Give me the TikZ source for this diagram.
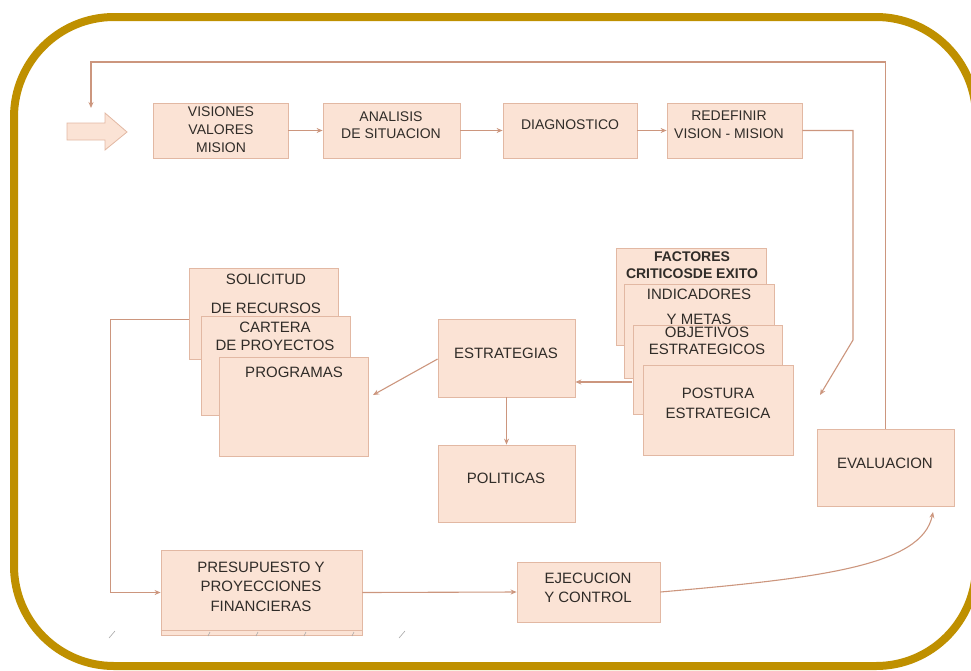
\documentclass[tikz,border=0pt]{standalone}
\usepackage{fontspec}
\setmainfont{Liberation Sans}
\usetikzlibrary{arrows.meta}
\definecolor{gold}{RGB}{191,144,0}
\definecolor{peach}{RGB}{251,227,213}
\definecolor{peachline}{RGB}{226,184,163}
\definecolor{wire}{RGB}{204,150,126}
\definecolor{ink}{RGB}{48,44,40}
\begin{document}
\begin{tikzpicture}[x=1pt,y=-1pt,
  box/.style={rectangle, draw=peachline, fill=peach, line width=0.8pt, inner sep=0pt},
  lbl/.style={text=ink, align=center, inner sep=0pt, font=\fontsize{15}{18}\selectfont},
  toprow/.style={lbl, font=\fontsize{14}{17}\selectfont},
  conn/.style={draw=wire, line width=1.1pt, -{Stealth[length=6pt,width=5pt]}},
  tick/.style={draw=black!35, line width=0.6pt}]

\useasboundingbox (0,0) rectangle (971,670);

% outer frame
\draw[gold, line width=8pt, rounded corners=100pt] (14,17) rectangle (976,666);

% entry arrow
\draw[draw=peachline, fill=peach, line width=0.8pt]
  (67,123) -- (105,123) -- (105,113) -- (127,132) -- (105,150) -- (105,140) -- (67,140) -- cycle;

% top row
\node[box, minimum width=135, minimum height=55] (vis) at (220.5,130.5) {};
\node[toprow, font=\fontsize{14}{18}\selectfont] (visT) at (221,130) {VISIONES\\VALORES\\MISION};
\node[box, minimum width=137, minimum height=55] (ana) at (391.5,130.5) {};
\node[toprow] (anaT) at (391,125.5) {ANALISIS\\DE SITUACION};
\node[box, minimum width=134, minimum height=55] (dia) at (570,130.5) {};
\node[toprow] (diaT) at (570,125) {DIAGNOSTICO};
\node[box, minimum width=135, minimum height=55] (red) at (734.5,130.5) {};
\node[toprow, font=\fontsize{14}{18}\selectfont] (redT) at (729,125) {REDEFINIR\\VISION - MISION};

% left stack
\node[box, minimum width=149, minimum height=91] (sol) at (263.5,313.5) {};
\node[lbl, font=\fontsize{15}{29}\selectfont] (solT) at (266,293.5) {SOLICITUD\\DE RECURSOS};
\node[box, minimum width=149, minimum height=99] (car) at (275.5,365.5) {};
\node[lbl] (carT) at (275,336) {CARTERA\\DE PROYECTOS};
\node[box, minimum width=149, minimum height=99] (pro) at (293.5,406.5) {};
\node[lbl] (proT) at (294,372) {PROGRAMAS};

% centre
\node[box, minimum width=137, minimum height=78] (est) at (506.5,358) {};
\node[lbl] (estT) at (506,353) {ESTRATEGIAS};
\node[box, minimum width=137, minimum height=77] (pol) at (506.5,483.5) {};
\node[lbl] (polT) at (506,478) {POLITICAS};

% right stack
\node[box, minimum width=150, minimum height=97] (fac) at (691,296.5) {};
\node[lbl, font=\bfseries\fontsize{14}{17}\selectfont] (facT) at (692,265.5) {FACTORES\\CRITICOSDE EXITO};
\node[box, minimum width=150, minimum height=94] (ind) at (699,331) {};
\node[lbl, font=\fontsize{15}{25}\selectfont] (indT) at (699,307) {INDICADORES\\Y METAS};
\node[box, minimum width=149, minimum height=89] (obj) at (707.5,369.5) {};
\node[lbl, font=\fontsize{15}{17}\selectfont] (objT) at (707,341) {OBJETIVOS\\ESTRATEGICOS};
\node[box, minimum width=150, minimum height=90] (pos) at (718,410) {};
\node[lbl, font=\fontsize{15}{20}\selectfont] (posT) at (718,403) {POSTURA\\ESTRATEGICA};

% evaluation
\node[box, minimum width=137, minimum height=77] (eva) at (885.5,467.5) {};
\node[lbl] (evaT) at (885,463) {EVALUACION};

% bottom row
\node[box, minimum width=201, minimum height=85] (pre) at (261.5,592.5) {};
\draw[draw=peachline, line width=0.6pt] (pre.south west) ++(0,-5) -- ++(201,0);
\node[lbl, font=\fontsize{15}{19.5}\selectfont] (preT) at (261,586.5) {PRESUPUESTO Y\\PROYECCIONES\\FINANCIERAS};
\node[box, minimum width=143, minimum height=60] (eje) at (588.5,592) {};
\node[lbl, font=\fontsize{15}{19}\selectfont] (ejeT) at (588,587.5) {EJECUCION\\Y CONTROL};

% free ends of connectors
\coordinate (fbTop) at (91,62);
\coordinate (fbEnd) at (91,108);
\coordinate (redBend) at (853,340);
\coordinate (redEnd) at (820,395);
\coordinate (progIn) at (373,395);
\coordinate (stackOut) at (632,382);
\coordinate (evaIn) at (933,512);

% connectors
\draw[conn] (eva.north) |- (fbTop) -- (fbEnd);
\draw[conn] (vis.east) -- (ana.west);
\draw[conn] (ana.east) -- (dia.west);
\draw[conn] (dia.east) -- (red.west);
\draw[conn] (red.east) -| (redBend) -- (redEnd);
\draw[conn] ([yshift=-1pt]est.west) -- (progIn);
\draw[conn] (est.south) -- (pol.north);
\draw[conn] (stackOut) -- (stackOut -| est.east);
\draw[conn] ([yshift=-6pt]sol.west) -- ++(-78,0) |- (pre.west);
\draw[conn] (pre.east) -- (eje.west);
\draw[conn] (eje.east) .. controls (820,578) and (922,566) .. (evaIn);

% small stray marks along the lower edge
\draw[tick] (109,638) -- (115,631);
\draw[tick] (399,638) -- (405,631);
\foreach \tx in {208,256,304,352} \draw[tick] (\tx,636) -- (\tx+2,632);

\end{tikzpicture}
\end{document}
